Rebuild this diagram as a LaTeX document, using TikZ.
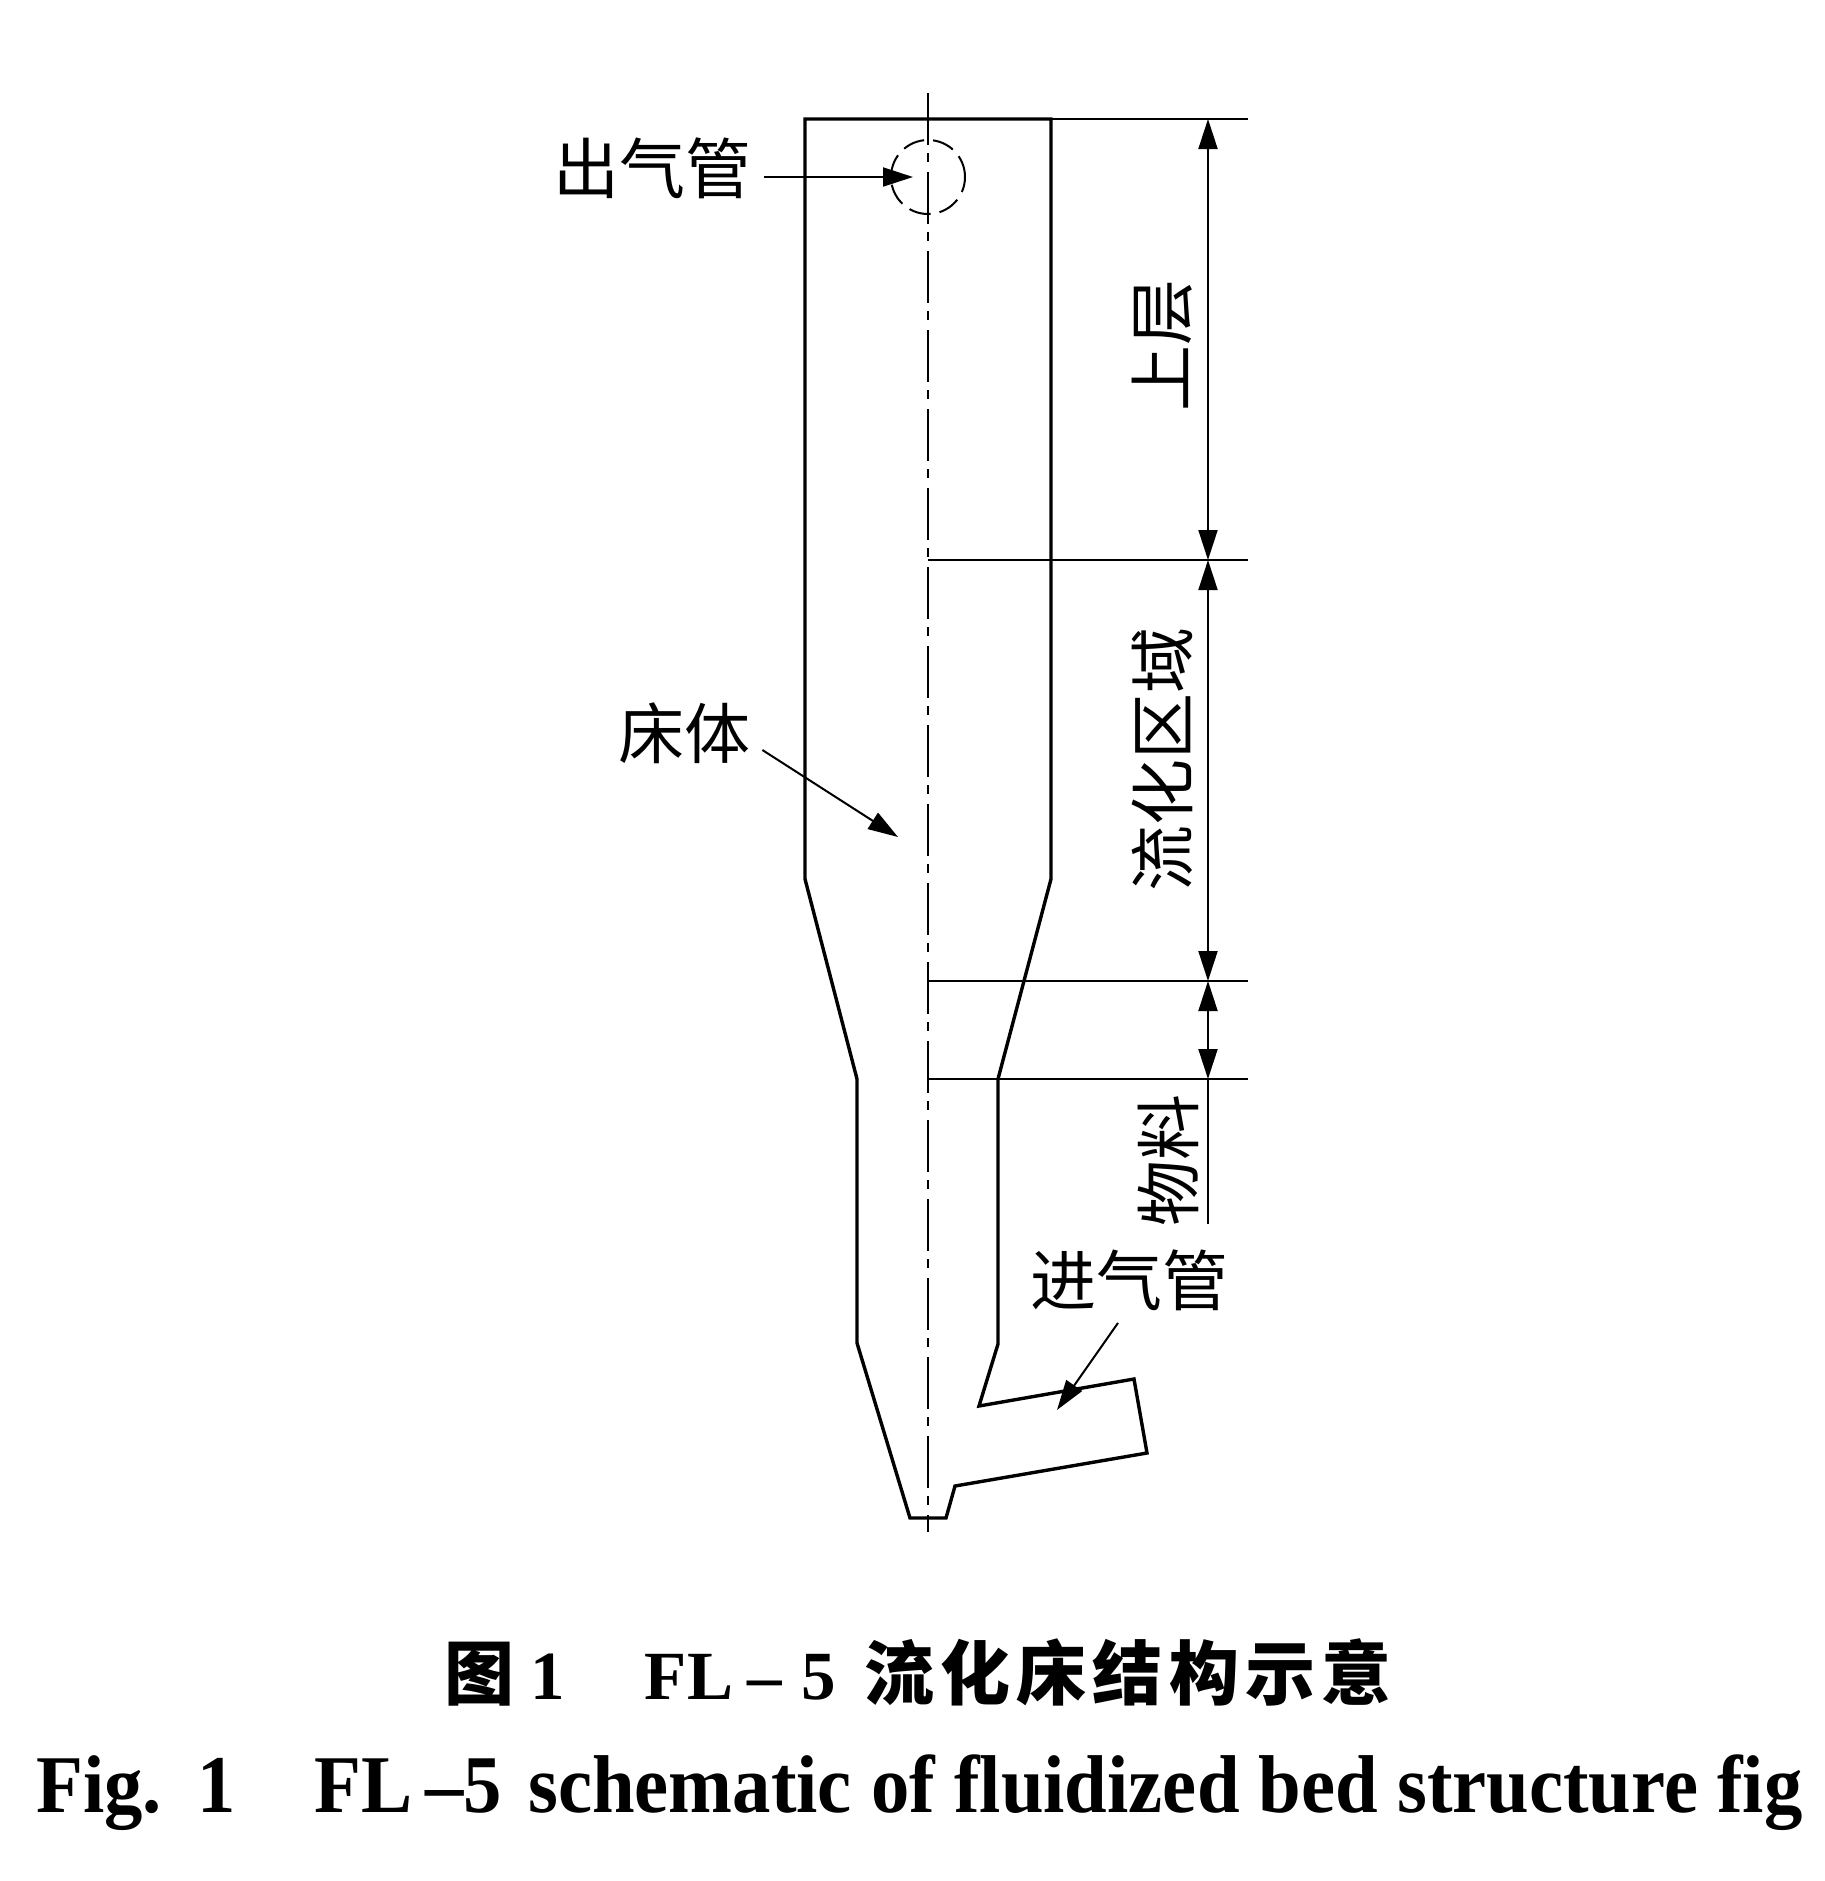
\documentclass[tikz,border=0pt]{standalone}
\usepackage{fontspec}
\setmainfont{Liberation Serif}
\newfontfamily\cjk{Noto Sans CJK SC}
\newcommand\capcjk{\cjk\bfseries\fontsize{35}{35}\selectfont}
\usetikzlibrary{arrows.meta, positioning, calc}

\begin{document}
\begin{tikzpicture}[x=0.5pt, y=-0.5pt,
  wall/.style={line width=1.7pt, line join=miter},
  extline/.style={line width=1.1pt},
  lead/.style={line width=1pt, -{Triangle[length=15pt, width=9.5pt]}},
  dimline/.style={line width=1pt, {Triangle[length=15pt, width=9.5pt]}-{Triangle[length=15pt, width=9.5pt]}},
  axisline/.style={line width=1pt, dash pattern=on 26pt off 4pt on 4.5pt off 5pt},
  lbl/.style={font=\cjk\fontsize{33}{33}\selectfont, inner sep=6pt},
  vlbl/.style={lbl, rotate=90}]
  \useasboundingbox (0,0) rectangle (1825,1881);

  \draw[wall] (805,119) -- (1051,119) -- (1051,879) -- (998,1079) -- (998,1344) -- (979,1406)
    -- (1134,1379) -- (1147,1453) -- (955,1486) -- (946,1518) -- (910,1518) -- (857,1343)
    -- (857,1079) -- (805,879) -- cycle;
  \draw[axisline] (928,93) -- (928,1532);
  \node[draw, circle, minimum size=37pt, inner sep=0pt, line width=1pt, dash pattern=on 11pt off 4.5pt] (outlet) at (928,177) {};

  \coordinate (d0) at (1208,119);
  \coordinate (d1) at (1208,560);
  \coordinate (d2) at (1208,981);
  \coordinate (d3) at (1208,1079);
  \coordinate (d4) at (1208,1224);
  \draw[extline] (1051,119) -- (1248,119);
  \foreach \y in {560,981,1079}
    \draw[extline] (928,\y) -- (1248,\y);
  \draw[dimline] (d0) -- (d1);
  \draw[dimline] (d1) -- (d2);
  \draw[dimline] (d2) -- (d3);
  \draw[extline] (d3) -- (d4);

  \node[vlbl] (upper) at (1162,345) {上层};
  \node[vlbl] (fluid) at (1162,759) {流化区域};
  \node[vlbl] (charge) at (1168,1160) {物料};

  \coordinate (outtip) at (913,177);
  \coordinate (bedtip) at (898,837);
  \coordinate (intip) at (1057,1410);
  \node[lbl, anchor=east] (outgas) at (764,168) {出气管};
  \node[lbl] (bed) at (684,733) {床体};
  \node[lbl] (inlet) at (1129,1280) {进气管};
  \draw[lead] (outgas.east |- outtip) -- (outtip);
  \draw[lead] ([yshift=-8.5pt]bed.east) -- (bedtip);
  \draw[lead] ([xshift=-5.5pt]inlet.south) -- (intip);

  \node[anchor=base west, inner sep=0pt, font=\bfseries\fontsize{34.5}{34.5}\selectfont] (cap1) at (444,1699)
    {{\capcjk 图}\hspace{8pt}1\hspace{40pt}FL\hspace{7pt}–\hspace{10pt}5\hspace{14pt}{\capcjk\addfontfeature{LetterSpace=9}流化床结构示意}};
  \node[anchor=base west, inner sep=0pt, font=\bfseries\fontsize{41}{41}\selectfont] (cap2) at (36,1812)
    {\scalebox{0.935}[1]{Fig.\hspace{19pt}1\hspace{42pt}FL\hspace{7pt}–5\hspace{14pt}schematic of fluidized bed structure fig}};
\end{tikzpicture}
\end{document}
